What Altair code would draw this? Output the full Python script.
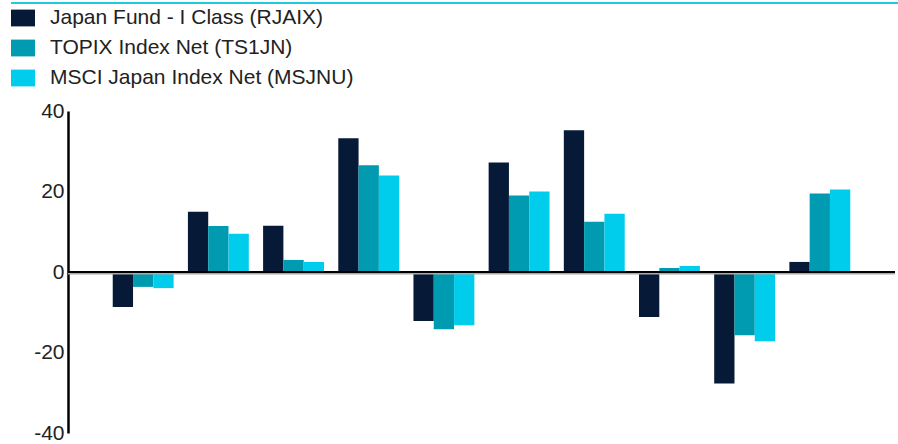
import altair as alt
import pandas as pd

periods = ["P1", "P2", "P3", "P4", "P5", "P6", "P7", "P8", "P9", "P10"]
series = ["Japan Fund - I Class (RJAIX)", "TOPIX Index Net (TS1JN)", "MSCI Japan Index Net (MSJNU)"]
fund = [-8.7, 15.0, 11.5, 33.2, -12.2, 27.2, 35.2, -11.2, -27.7, 2.5]
topix = [-3.7, 11.4, 3.0, 26.5, -14.2, 19.0, 12.5, 1.0, -15.7, 19.5]
msci = [-4.0, 9.5, 2.5, 24.0, -13.2, 20.0, 14.5, 1.5, -17.2, 20.5]
colors = ["#061a38", "#009bb0", "#00cdec"]
y_ticks = [-40, -20, 0, 20, 40]

rows = []
for s, vals in zip(series, [fund, topix, msci]):
    for p, v in zip(periods, vals):
        rows.append({"period": p, "series": s, "value": v})
df = pd.DataFrame(rows)

bars = alt.Chart(df).mark_bar(clip=False).encode(
    x=alt.X("period:N", sort=periods, axis=None,
            scale=alt.Scale(paddingInner=0.19, paddingOuter=0.595)),
    xOffset=alt.XOffset("series:N", sort=series, scale=alt.Scale(paddingInner=0, paddingOuter=0)),
    y=alt.Y("value:Q", scale=alt.Scale(domain=[-40, 40], nice=False),
            axis=alt.Axis(values=y_ticks, title=None, grid=False, ticks=False,
                          domainColor="#000000", domainWidth=2.5,
                          labelFontSize=21, labelFont="Liberation Sans", labelColor="#222222",
                          labelPadding=4, labelExpr="'' + datum.value")),
    color=alt.Color("series:N", sort=series,
                    scale=alt.Scale(domain=series, range=colors),
                    legend=alt.Legend(title=None, orient="none", legendX=-57, legendY=-105,
                                      direction="vertical",
                                      symbolType="M-1,-0.7H1V0.7H-1Z", symbolSize=576,
                                      symbolStrokeWidth=0, symbolOpacity=1,
                                      labelFontSize=21, labelFont="Liberation Sans",
                                      labelColor="#222222", labelOffset=15,
                                      rowPadding=8, labelLimit=500)),
)

zero_shadow = alt.Chart(pd.DataFrame({"y": [0]})).mark_rule(color="#aaaaaa", strokeWidth=2, yOffset=1.5).encode(y="y:Q")
zero = alt.Chart(pd.DataFrame({"y": [0]})).mark_rule(color="#000000", strokeWidth=2).encode(y="y:Q")

top_line = alt.Chart(pd.DataFrame({"a": [0]})).mark_rule(color="#22c8e0", strokeWidth=2).encode(
    x=alt.value(-57), x2=alt.value(830), y=alt.value(-108)
)

chart = alt.layer(bars, zero_shadow, zero, top_line).properties(
    width=827, height=322,
    autosize=alt.AutoSizeParams(type="none"),
    padding={"left": 68, "top": 111, "right": 3, "bottom": 11},
).configure_view(stroke=None)

chart.save("out.html", embed_options={"renderer": "svg", "actions": False})
